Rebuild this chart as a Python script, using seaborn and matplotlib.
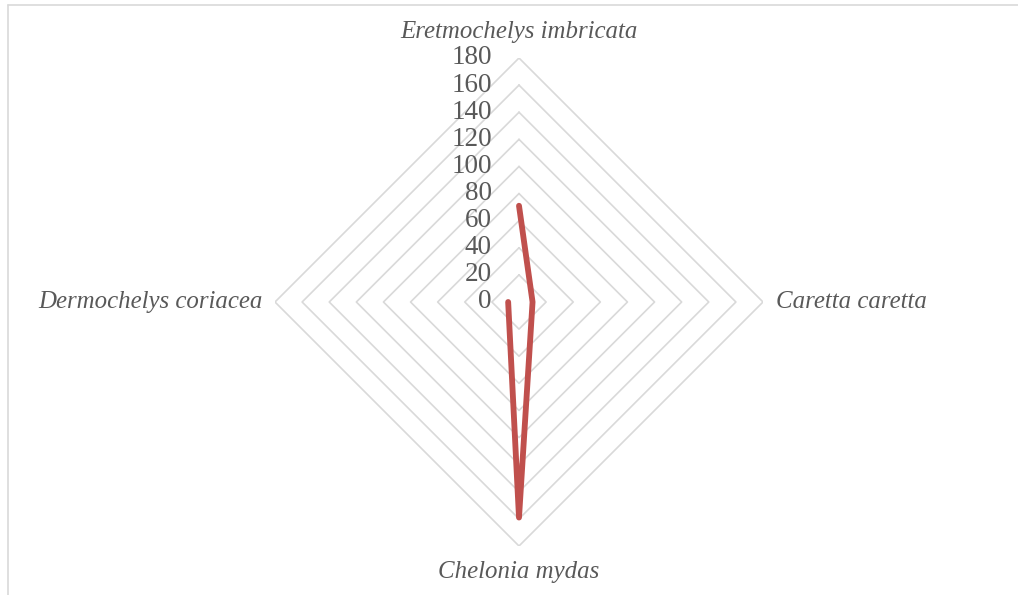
import numpy as np
import matplotlib
matplotlib.use("Agg")
import matplotlib.pyplot as plt
import matplotlib.transforms as mtransforms
import seaborn as sns
import pandas as pd

# Sea turtle species and their counts
species = ["Eretmochelys imbricata", "Caretta caretta", "Chelonia mydas", "Dermochelys coriacea"]
counts = [71, 10, 159, 8]
ring_levels = [0, 20, 40, 60, 80, 100, 120, 140, 160, 180]

sns.set_theme(style="white")
plt.rcParams["font.family"] = ["Liberation Serif", "DejaVu Serif"]

text_color = "#595959"
grid_color = "#D9D9D9"
line_color = "#C0504D"

fig = plt.figure(figsize=(10.18, 5.95), dpi=100)
fig.patch.set_facecolor("white")

# chart-area border (top and left edges visible)
fig.add_artist(plt.Line2D([8 / 1018, 1.0], [1 - 5 / 595, 1 - 5 / 595],
                          transform=fig.transFigure, color=grid_color, lw=1.2))
fig.add_artist(plt.Line2D([8 / 1018, 8 / 1018], [0.0, 1 - 5 / 595],
                          transform=fig.transFigure, color=grid_color, lw=1.2))

cx, cy, R = 519, 302, 244
ax = fig.add_axes([(cx - R) / 1018, (595 - cy - R) / 595, 2 * R / 1018, 2 * R / 595],
                  projection="polar")
ax.set_theta_offset(np.pi / 2)
ax.set_theta_direction(-1)
ax.set_ylim(0, max(ring_levels))
ax.grid(False)
ax.spines["polar"].set_visible(False)
ax.set_xticks([])
ax.set_yticks([])
ax.patch.set_alpha(0)

n = len(species)
angles = np.linspace(0, 2 * np.pi, n, endpoint=False)
closed_angles = np.append(angles, angles[0])

# diamond-shaped gridlines
for lvl in ring_levels:
    ax.plot(closed_angles, [lvl] * (n + 1), color=grid_color, lw=1.2, zorder=1)

# radial value labels on the upper spoke
label_tf = mtransforms.offset_copy(ax.transData, fig=fig, x=-19.5, y=0, units="points")
for lvl in ring_levels:
    ax.text(0, lvl, str(lvl), transform=label_tf, ha="right", va="center",
            fontsize=19.5, color=text_color, zorder=3)

# data series
df = pd.DataFrame({
    "angle": closed_angles,
    "count": counts + [counts[0]],
})
sns.lineplot(data=df, x="angle", y="count", sort=False, ax=ax,
             color=line_color, lw=4.2, zorder=4,
             solid_joinstyle="round", solid_capstyle="round")
ax.set_xlabel("")
ax.set_ylabel("")

# category labels around the outside
rmax = max(ring_levels)
offsets = [(0, 19), (9, 0), (0, -19), (-9, 0)]
aligns = [("center", "center"), ("left", "center"), ("center", "center"), ("right", "center")]
for ang, name, (dx, dy), (ha, va) in zip(angles, species, offsets, aligns):
    tf = mtransforms.offset_copy(ax.transData, fig=fig, x=dx, y=dy, units="points")
    ax.text(ang, rmax, name, transform=tf, ha=ha, va=va, fontsize=17.9,
            style="italic", color=text_color, clip_on=False)

fig.savefig("out.png", dpi=100, facecolor="white")
